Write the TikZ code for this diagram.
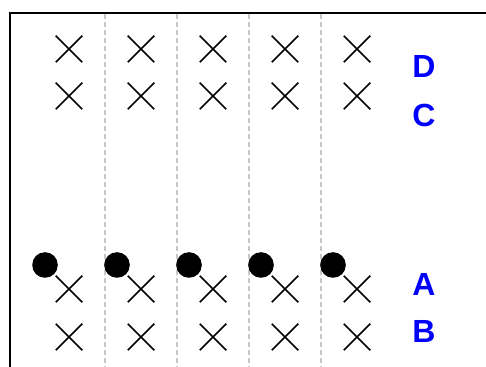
\documentclass[tikz,border=0pt]{standalone}
\usepackage{fontspec}
\setmainfont{Liberation Sans}
\usepackage{tikz}
\usetikzlibrary{shapes.misc}

\begin{document}
\begin{tikzpicture}[
  x=0.5pt, y=-0.5pt,
  xmark/.style={draw, cross out, minimum size=12.5pt, inner sep=0pt, line width=0.75pt},
  dot/.style={circle, fill=black, minimum size=12.8pt, inner sep=0pt},
  gap/.style={draw=black!22, line width=0.65pt, dash pattern=on 2.5pt off 1.5pt},
  lbl/.style={text=blue, font=\bfseries\fontsize{16}{16}\selectfont, inner sep=0pt}
]
\useasboundingbox (0,0) rectangle (486,367);

% frame
\draw[line width=1pt] (10,367) -- (10,13) -- (486,13);

% dashed separators
\foreach \i in {0,...,3}
  \draw[gap] (105+72*\i,14) -- (105+72*\i,367);

% columns
\foreach \i in {1,...,5} {
  \node[xmark] (d\i) at (-3+72*\i,49) {};
  \node[xmark] (c\i) at (-3+72*\i,96) {};
  \node[dot] (p\i) at (-27+72*\i,265) {};
  \node[xmark] (a\i) at (-3+72*\i,289) {};
  \node[xmark] (b\i) at (-3+72*\i,337) {};
}

% row labels
\node[lbl] (labD) at (424,66) {D};
\node[lbl] (labC) at (424,115) {C};
\node[lbl] (labA) at (424,284) {A};
\node[lbl] (labB) at (424,331) {B};
\end{tikzpicture}
\end{document}
